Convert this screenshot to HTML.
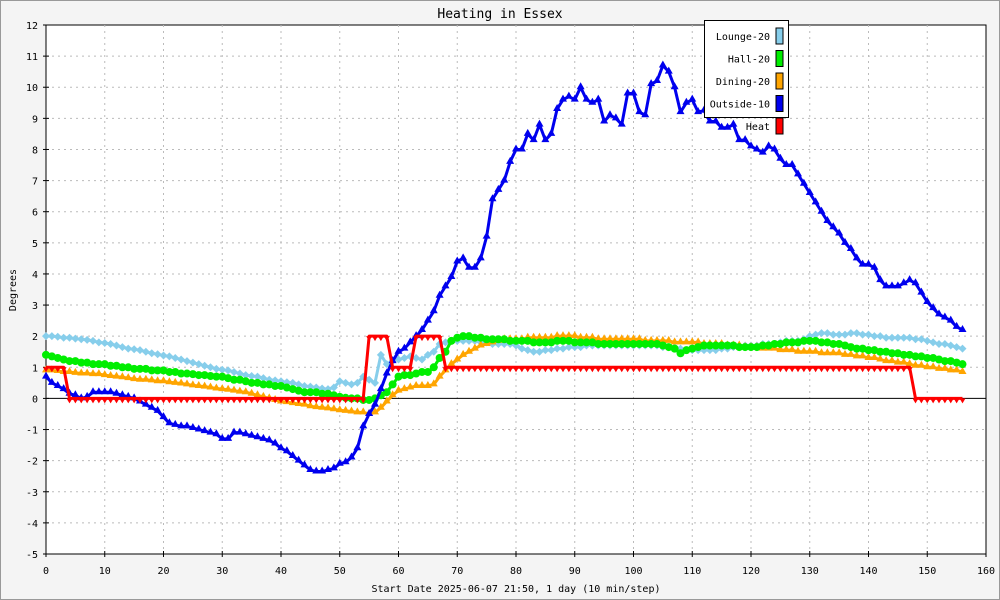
<!DOCTYPE html>
<html><head><meta charset="utf-8"><style>
body{margin:0;background:#fff}
svg{display:block;font-family:"DejaVu Sans Mono","Liberation Mono",monospace}
</style></head><body>
<svg id="c" width="1000" height="600">
<rect x="0.5" y="0.5" width="999" height="599" fill="#f4f4f4" stroke="#999"/>
<rect x="46" y="25" width="940" height="529" fill="#fff" stroke="#000"/>
<text x="500" y="18" text-anchor="middle" font-size="13">Heating in Essex</text>
<text transform="translate(16,290) rotate(-90)" text-anchor="middle" font-size="10">Degrees</text>
<text x="516" y="592" text-anchor="middle" font-size="10">Start Date 2025-06-07 21:50, 1 day (10 min/step)</text>
<g id="grid"></g><g id="series"></g>
<g>
<rect x="704.5" y="20.5" width="84" height="97" fill="#fff" stroke="#000"/>
<g id="legend"></g>
</g>
</svg>
<script>
const xTicks=[0,10,20,30,40,50,60,70,80,90,100,110,120,130,140,150,160];
const yTicks=[-5,-4,-3,-2,-1,0,1,2,3,4,5,6,7,8,9,10,11,12];
const seriesNames=["Lounge-20","Hall-20","Dining-20","Outside-10","Heat"];
const lounge=[2.0,2.0,1.98,1.95,1.95,1.92,1.9,1.88,1.85,1.8,1.78,1.75,1.7,1.65,1.6,1.58,1.55,1.5,1.45,1.42,1.38,1.35,1.3,1.25,1.2,1.15,1.1,1.05,1.0,0.95,0.92,0.9,0.85,0.8,0.75,0.72,0.7,0.65,0.6,0.58,0.55,0.52,0.5,0.45,0.4,0.38,0.35,0.32,0.3,0.35,0.55,0.5,0.45,0.5,0.7,0.6,0.5,1.4,1.1,1.2,1.25,1.3,1.35,1.3,1.25,1.4,1.5,1.75,1.8,1.85,1.85,1.85,1.85,1.85,1.8,1.8,1.75,1.75,1.75,1.75,1.7,1.6,1.55,1.5,1.5,1.55,1.55,1.6,1.6,1.65,1.65,1.65,1.7,1.7,1.7,1.7,1.7,1.7,1.7,1.7,1.7,1.7,1.7,1.7,1.7,1.65,1.65,1.65,1.6,1.55,1.55,1.55,1.55,1.55,1.55,1.6,1.6,1.65,1.65,1.7,1.7,1.7,1.75,1.75,1.75,1.8,1.85,1.85,1.85,1.9,2.0,2.05,2.1,2.1,2.05,2.05,2.05,2.1,2.1,2.05,2.05,2.0,2.0,1.95,1.95,1.95,1.95,1.95,1.9,1.9,1.85,1.8,1.75,1.75,1.7,1.65,1.6];
const hall=[1.4,1.35,1.3,1.25,1.2,1.2,1.15,1.15,1.1,1.1,1.1,1.05,1.05,1.0,1.0,0.95,0.95,0.95,0.9,0.9,0.9,0.85,0.85,0.8,0.8,0.78,0.75,0.75,0.72,0.7,0.7,0.65,0.6,0.6,0.55,0.5,0.5,0.45,0.45,0.4,0.4,0.35,0.3,0.25,0.2,0.2,0.2,0.15,0.15,0.1,0.05,0.02,0.0,0.0,-0.05,-0.05,0.0,0.1,0.2,0.45,0.7,0.75,0.75,0.8,0.85,0.85,1.0,1.3,1.5,1.85,1.95,2.0,2.0,1.95,1.95,1.9,1.9,1.9,1.9,1.85,1.85,1.85,1.85,1.8,1.8,1.8,1.8,1.85,1.85,1.85,1.8,1.8,1.8,1.8,1.75,1.75,1.75,1.75,1.75,1.75,1.75,1.75,1.75,1.75,1.75,1.7,1.65,1.6,1.45,1.55,1.6,1.65,1.7,1.7,1.7,1.7,1.7,1.7,1.65,1.65,1.65,1.65,1.7,1.7,1.75,1.75,1.8,1.8,1.8,1.85,1.85,1.85,1.8,1.8,1.75,1.75,1.7,1.65,1.6,1.6,1.55,1.55,1.5,1.5,1.45,1.45,1.4,1.4,1.35,1.35,1.3,1.3,1.25,1.2,1.2,1.15,1.1];
const dining=[0.9,0.9,0.88,0.85,0.85,0.82,0.8,0.8,0.78,0.78,0.75,0.72,0.7,0.68,0.65,0.62,0.6,0.6,0.58,0.55,0.55,0.52,0.5,0.48,0.45,0.42,0.4,0.38,0.35,0.32,0.3,0.28,0.25,0.22,0.2,0.15,0.1,0.05,0.0,-0.05,-0.1,-0.12,-0.15,-0.18,-0.2,-0.25,-0.28,-0.3,-0.32,-0.35,-0.38,-0.4,-0.42,-0.45,-0.45,-0.5,-0.45,-0.3,-0.1,0.1,0.25,0.3,0.35,0.4,0.4,0.4,0.45,0.7,0.9,1.1,1.25,1.4,1.5,1.6,1.7,1.75,1.8,1.85,1.9,1.9,1.9,1.9,1.95,1.95,1.95,1.95,1.95,2.0,2.0,2.0,2.0,1.95,1.95,1.95,1.9,1.9,1.9,1.9,1.9,1.9,1.9,1.9,1.85,1.85,1.85,1.85,1.85,1.8,1.8,1.8,1.8,1.8,1.75,1.75,1.75,1.75,1.7,1.7,1.7,1.65,1.65,1.65,1.6,1.6,1.6,1.55,1.55,1.55,1.5,1.5,1.5,1.5,1.45,1.45,1.45,1.45,1.4,1.4,1.35,1.35,1.3,1.3,1.25,1.2,1.2,1.15,1.15,1.1,1.05,1.05,1.0,1.0,0.95,0.95,0.9,0.9,0.85];
const outside=[0.7,0.5,0.4,0.3,0.15,0.1,0.0,0.05,0.2,0.2,0.2,0.2,0.15,0.1,0.05,0.0,-0.1,-0.2,-0.3,-0.4,-0.6,-0.8,-0.85,-0.9,-0.9,-0.95,-1.0,-1.05,-1.1,-1.15,-1.3,-1.3,-1.1,-1.1,-1.15,-1.2,-1.25,-1.3,-1.35,-1.45,-1.6,-1.7,-1.85,-2.0,-2.15,-2.3,-2.35,-2.35,-2.3,-2.25,-2.1,-2.05,-1.9,-1.6,-0.9,-0.5,-0.2,0.3,0.8,1.2,1.5,1.6,1.8,2.0,2.2,2.5,2.8,3.3,3.6,3.9,4.4,4.5,4.2,4.2,4.5,5.2,6.4,6.7,7.0,7.6,8.0,8.0,8.5,8.3,8.8,8.3,8.5,9.3,9.6,9.7,9.6,10.0,9.6,9.5,9.6,8.9,9.1,9.0,8.8,9.8,9.8,9.2,9.1,10.1,10.2,10.7,10.5,10.0,9.2,9.5,9.6,9.2,9.25,8.9,8.9,8.7,8.7,8.8,8.3,8.3,8.1,8.0,7.9,8.1,8.0,7.7,7.5,7.5,7.2,6.9,6.6,6.3,6.0,5.7,5.5,5.3,5.0,4.8,4.5,4.3,4.3,4.2,3.8,3.6,3.6,3.6,3.7,3.8,3.7,3.4,3.1,2.9,2.7,2.6,2.5,2.3,2.2];
const heat=[1,1,1,1,0,0,0,0,0,0,0,0,0,0,0,0,0,0,0,0,0,0,0,0,0,0,0,0,0,0,0,0,0,0,0,0,0,0,0,0,0,0,0,0,0,0,0,0,0,0,0,0,0,0,0,2,2,2,2,1,1,1,1,2,2,2,2,2,1,1,1,1,1,1,1,1,1,1,1,1,1,1,1,1,1,1,1,1,1,1,1,1,1,1,1,1,1,1,1,1,1,1,1,1,1,1,1,1,1,1,1,1,1,1,1,1,1,1,1,1,1,1,1,1,1,1,1,1,1,1,1,1,1,1,1,1,1,1,1,1,1,1,1,1,1,1,1,1,0,0,0,0,0,0,0,0,0];

const NS="http://www.w3.org/2000/svg";
const X0=46,X1=986,Y0=554,Y1=25,XMIN=0,XMAX=160,YMIN=-5,YMAX=12;
function xs(v){return X0+(v-XMIN)/(XMAX-XMIN)*(X1-X0);}
function ys(v){return Y0-(v-YMIN)/(YMAX-YMIN)*(Y0-Y1);}
function mk(tag,attrs,parent){const e=document.createElementNS(NS,tag);for(const k in attrs)e.setAttribute(k,attrs[k]);parent.appendChild(e);return e;}
const grid=document.getElementById('grid');
xTicks.forEach(t=>{
  const x=xs(t);
  if(t>0&&t<160){const l=mk('line',{x1:x,x2:x,y1:Y1,y2:Y0,stroke:'#bbb','stroke-dasharray':'2,4'},grid);
  
  }
  const tk=mk('line',{x1:x,x2:x,y1:Y0-3,y2:Y0+3,stroke:'#000'},grid);
  
  
  const tx=mk('text',{x:x,y:574,'text-anchor':'middle','font-size':'10'},grid);tx.textContent=t;
  
  
});
yTicks.forEach(t=>{
  const y=ys(t);
  if(t!==0&&t>YMIN&&t<YMAX){const l=mk('line',{x1:X0,x2:X1,y1:y,y2:y,stroke:'#bbb','stroke-dasharray':'2,4'},grid);
  
  }
  const tk=mk('line',{x1:X0-3,x2:X0+3,y1:y,y2:y,stroke:'#000'},grid);
  
  
  const tx=mk('text',{x:38,y:y+4,'text-anchor':'end','font-size':'10'},grid);tx.textContent=t;
  
  
});
const zl=mk('line',{x1:X0,x2:X1,y1:ys(0),y2:ys(0),stroke:'#000'},grid);



const sg=document.getElementById('series');
function drawSeries(vals,color,marker,name){
  const g=mk('g',{},sg);
  
  
  const pts=vals.map((v,i)=>xs(i)+','+ys(v)).join(' ');
  const pl=mk('polyline',{points:pts,fill:'none',stroke:color,'stroke-width':3,'stroke-linejoin':'round'},g);
  
  
  vals.forEach((v,i)=>{
    const x=xs(i),y=ys(v);let m;
    if(marker==='circle')m=mk('circle',{cx:x,cy:y,r:4,fill:color},g);
    else if(marker==='diamond')m=mk('polygon',{points:`${x},${y-4} ${x+4},${y} ${x},${y+4} ${x-4},${y}`,fill:color},g);
    else if(marker==='tri')m=mk('polygon',{points:`${x},${y-5} ${x+4},${y+2} ${x-4},${y+2}`,fill:color},g);
    else m=mk('polygon',{points:`${x-3},${y} ${x+3},${y} ${x},${y+5}`,fill:color},g);
    
    
  });
}
drawSeries(lounge,'#87ceeb','diamond','lounge');
drawSeries(dining,'#ffa500','tri','dining');
drawSeries(hall,'#00ee00','circle','hall');
drawSeries(outside,'#0000ee','tri','outside');
drawSeries(heat,'#ff0000','drop','heat');

const colors=['#87ceeb','#00ee00','#ffa500','#0000ee','#ff0000'];
const lg=document.getElementById('legend');
seriesNames.forEach((n,i)=>{
  const y=36+i*22.5;
  const t=mk('text',{x:770,y:y+4,'text-anchor':'end','font-size':'10'},lg);t.textContent=n;
  
  
  const r=mk('rect',{x:776,y:y-8,width:7,height:16,fill:colors[i],stroke:'#000'},lg);
  
  
});
</script>
</body></html>
